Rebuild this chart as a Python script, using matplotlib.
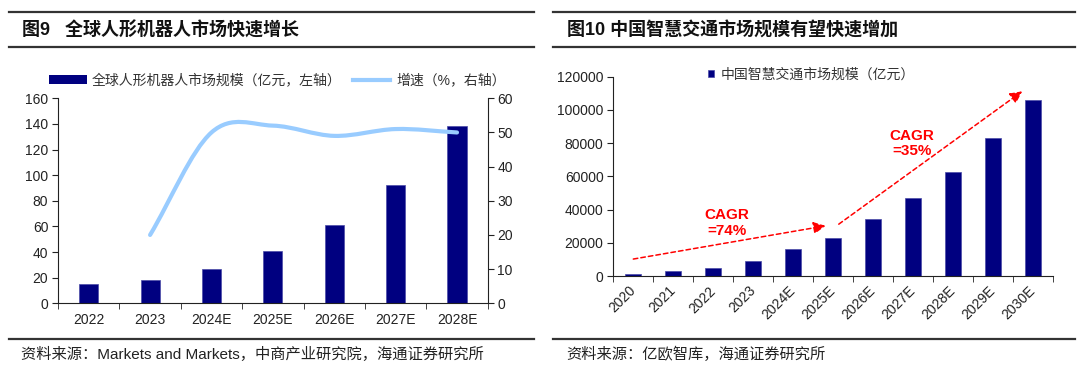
import matplotlib.pyplot as plt
import numpy as np
from matplotlib.lines import Line2D
from matplotlib.patches import Patch, PathPatch
from matplotlib.path import Path

plt.rcParams['font.family'] = ['Liberation Sans', 'Noto Sans CJK SC']

# left chart: humanoid robot market
robot_years = ['2022', '2023', '2024E', '2025E', '2026E', '2027E', '2028E']
robot_market = [15, 18, 27, 41, 61, 92, 138]
growth_years = ['2023', '2024E', '2025E', '2026E', '2027E', '2028E']
robot_growth = [20, 50, 52, 49, 51, 50]

# right chart: smart traffic market
traffic_years = ['2020', '2021', '2022', '2023', '2024E', '2025E',
                 '2026E', '2027E', '2028E', '2029E', '2030E']
traffic_market = [1400, 3000, 5000, 8900, 16300, 23000,
                  34600, 47100, 62800, 83100, 106000]
cagr_labels = ['CAGR\n=74%', 'CAGR\n=35%']

NAVY = '#000080'
LIGHT = '#99CCFF'
DARK = '#222222'
W, H = 1080, 366


def fx(px):
    return px / W


def fy(py):
    return 1 - py / H


def smooth_path(xs, ys):
    # excel style smoothed line: cubic bezier, control points from neighbours
    pts = np.column_stack([xs, ys]).astype(float)
    ext = np.vstack([2 * pts[0] - pts[1], pts, 2 * pts[-1] - pts[-2]])
    verts = [pts[0]]
    codes = [Path.MOVETO]
    for i in range(1, len(ext) - 2):
        p0, p1, p2, p3 = ext[i - 1], ext[i], ext[i + 1], ext[i + 2]
        verts += [p1 + (p2 - p0) / 6, p2 - (p3 - p1) / 6, p2]
        codes += [Path.CURVE4] * 3
    return Path(verts, codes)


fig = plt.figure(figsize=(10.8, 3.66), dpi=100)

# header / footer rules
for x0, x1 in [(8.7, 534), (553.3, 1075)]:
    for yy in [12, 46.7, 338.7]:
        fig.add_artist(Line2D([fx(x0), fx(x1)], [fy(yy), fy(yy)], color='#333333', lw=1.6))

fig.text(fx(22), fy(31), '图9   全球人形机器人市场快速增长', fontsize=13, fontweight='bold',
         va='center', ha='left', color='#111111')
fig.text(fx(567), fy(31), '图10 中国智慧交通市场规模有望快速增加', fontsize=13, fontweight='bold',
         va='center', ha='left', color='#111111')
fig.text(fx(21), fy(354.5), '资料来源：Markets and Markets，中商产业研究院，海通证券研究所',
         fontsize=11, va='center', ha='left', color=DARK)
fig.text(fx(566.5), fy(354.5), '资料来源：亿欧智库，海通证券研究所',
         fontsize=11, va='center', ha='left', color=DARK)

# ---- left chart
ax = fig.add_axes([fx(58), fy(303.3), fx(487.7 - 58), (303.3 - 98.3) / H])
x = np.arange(len(robot_years))
ax.bar(x, robot_market, width=0.31, color=NAVY, edgecolor='#4a4aa8', lw=0.5, zorder=2)
ax.set_xlim(-0.5, len(robot_years) - 0.5)
ax.set_ylim(0, 160)
ax.set_yticks(np.arange(0, 161, 20))
ax.set_xticks(x)
ax.set_xticklabels(robot_years)
ax.set_xticks(np.arange(-0.5, len(robot_years), 1), minor=True)
ax.tick_params(axis='x', which='major', length=0, pad=7, labelsize=10, labelcolor=DARK)
ax.tick_params(axis='x', which='minor', length=4, direction='out', color=DARK)
ax.tick_params(axis='y', length=4, direction='out', labelsize=10, labelcolor=DARK, color=DARK, pad=3)
ax.spines['top'].set_visible(False)
ax.spines['right'].set_visible(False)
for s in ['left', 'bottom']:
    ax.spines[s].set_color(DARK)

ax2 = ax.twinx()
ax2.set_ylim(0, 60)
ax2.set_yticks(np.arange(0, 61, 10))
ax2.tick_params(axis='y', length=4, direction='out', labelsize=10, labelcolor=DARK, color=DARK, pad=3)
ax2.spines['top'].set_visible(False)
ax2.spines['left'].set_visible(False)
ax2.spines['bottom'].set_visible(False)
ax2.spines['right'].set_color(DARK)
gx = [robot_years.index(y) for y in growth_years]
ax2.add_patch(PathPatch(smooth_path(gx, robot_growth), fill=False, edgecolor=LIGHT,
                        lw=3, capstyle='round', joinstyle='round'))

handles = [Patch(facecolor=NAVY, edgecolor='none'), Line2D([], [], color=LIGHT, lw=3)]
fig.legend(handles, ['全球人形机器人市场规模（亿元，左轴）', '增速（%，右轴）'],
           loc='center left', bbox_to_anchor=(fx(49), fy(80.7)), ncol=2, frameon=False,
           fontsize=10, handlelength=2.7, handleheight=0.6, handletextpad=0.4,
           columnspacing=0.8, borderpad=0, borderaxespad=0, labelcolor='#333333')

# ---- right chart
bx = fig.add_axes([fx(613.3), fy(276), fx(1053 - 613.3), (276 - 76.7) / H])
x2 = np.arange(len(traffic_years))
bx.bar(x2, traffic_market, width=0.4, color=NAVY, edgecolor='#4a4aa8', lw=0.5, zorder=2)
bx.set_xlim(-0.5, len(traffic_years) - 0.5)
bx.set_ylim(0, 120000)
bx.set_yticks(np.arange(0, 120001, 20000))
bx.set_xticks(x2)
bx.set_xticklabels(traffic_years, rotation=45, ha='right', va='center', rotation_mode='anchor')
bx.set_xticks(np.arange(-0.5, len(traffic_years), 1), minor=True)
bx.tick_params(axis='x', which='major', length=0, pad=9, labelsize=10, labelcolor=DARK)
bx.tick_params(axis='x', which='minor', length=4, direction='out', color=DARK)
bx.tick_params(axis='y', length=4, direction='out', labelsize=10, labelcolor=DARK, color=DARK, pad=3)
bx.spines['top'].set_visible(False)
bx.spines['right'].set_visible(False)
for s in ['left', 'bottom']:
    bx.spines[s].set_color(DARK)

bx.legend([Patch(facecolor=NAVY, edgecolor='#4a4aa8', lw=0.5)], ['中国智慧交通市场规模（亿元）'],
          loc='center left', bbox_to_anchor=(fx(708 - 613.3) / fx(1053 - 613.3), 1.01),
          frameon=False, fontsize=10, handlelength=0.45, handleheight=0.45,
          handletextpad=0.45, borderpad=0, borderaxespad=0, labelcolor='#333333')

# CAGR arrows
arrows = [((0.0, 10200), (4.81, 30200)), ((5.14, 31200), (9.73, 111200))]
for start, tip in arrows:
    bx.annotate('', xy=tip, xytext=start,
                arrowprops=dict(arrowstyle='-|>', color='#FF0000', lw=1.1,
                                linestyle=(0, (3, 2)), mutation_scale=18,
                                shrinkA=0, shrinkB=0))
for (tx, ty), label in zip([(2.35, 32000), (6.98, 79800)], cagr_labels):
    bx.text(tx, ty, label, color='#FF0000', fontsize=11, fontweight='bold',
            ha='center', va='center', linespacing=1.15)

fig.savefig('out.png', dpi=100)
